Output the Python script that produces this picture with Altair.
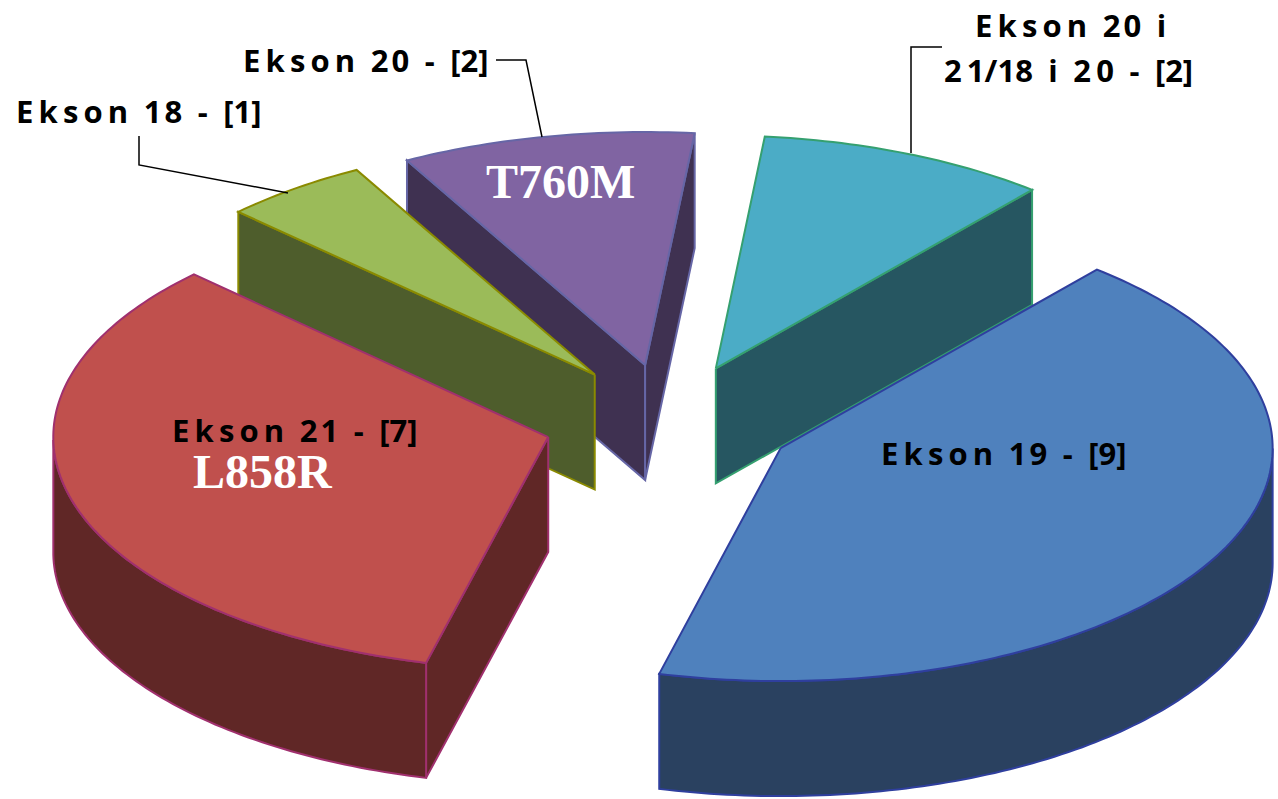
import math
import altair as alt
import pandas as pd

# Slices in drawing-sequence order, clockwise from the first slice angle
slice_names = ["Ekson 19", "Ekson 21", "Ekson 18", "Ekson 20", "Ekson 20 i 21/18 i 20"]
slice_counts = [9, 7, 1, 2, 2]
top_colors = ["#4F81BD", "#C0504D", "#9BBB59", "#8064A2", "#4BACC6"]
wall_colors = ["#2A4160", "#602726", "#4E5D2C", "#3F3151", "#265661"]
edge_colors = ["#2F3F9E", "#A0306E", "#8A8A00", "#6666A6", "#35A070"]
explode_by_slice = [0.255, 0.255, 0.25, 0.245, 0.245]
# Horizontal stretch of each slice, a slight perspective widening on the far left
stretch_by_slice = [1.0, 1.006, 1.012, 1.012, 1.0]

# Pie geometry: tilted ellipse and extrusion depth
W, H = 1278, 799
CX, CY = 669, 421
RX, RY = 492, 233
DEPTH = 115 / RY
FIRST_ANGLE = 50.0


def to_ux(px):
    return (px - CX) / RX


def to_uy(py):
    return (CY - py) / RY


def point(t, ox, oy, sx=1.0, drop=0.0):
    r = math.radians(t)
    return ox + sx * math.cos(r), oy + math.sin(r) - drop


rows = []


def add_poly(pid, pts, fill, stroke):
    closed = list(pts) + [pts[0]]
    for i, (x, y) in enumerate(closed):
        rows.append({"poly": pid, "seq": i, "x": x, "y": y, "fill": fill, "stroke": stroke})


# Work out the angular span of each slice from its count
total = sum(slice_counts)
spans = []
angle = FIRST_ANGLE
for c in slice_counts:
    spans.append((angle, angle - 360.0 * c / total))
    angle = spans[-1][1]

# Back-to-front painting order: rear slices first
paint_order = [4, 3, 2, 1, 0]
for idx in paint_order:
    start, end = spans[idx]
    mid = math.radians((start + end) / 2)
    explode = explode_by_slice[idx]
    sx = stretch_by_slice[idx]
    ox, oy = explode * math.cos(mid), explode * math.sin(mid)
    steps = max(8, int(abs(start - end)))
    arc = [start + (end - start) * k / steps for k in range(steps + 1)]
    apex = (ox, oy)
    apex_low = (ox, oy - DEPTH)
    fill, wall, stroke = top_colors[idx], wall_colors[idx], edge_colors[idx]

    # Radial walls that face the viewer
    for name, t, sign in (("a", start, 1), ("b", end, -1)):
        r = math.radians(t)
        # outward normal of the radial edge; the ground y component decides visibility
        normal_y = sign * math.cos(r)
        if normal_y < 0:
            add_poly(f"{idx}-wall-{name}",
                     [apex, point(t, ox, oy, sx), point(t, ox, oy, sx, DEPTH), apex_low],
                     wall, stroke)

    # Curved wall: only the part on the near half of the ellipse
    near = [t for t in arc if math.sin(math.radians(t)) <= 0.0005]
    if len(near) > 1:
        upper = [point(t, ox, oy, sx) for t in near]
        lower = [point(t, ox, oy, sx, DEPTH) for t in reversed(near)]
        add_poly(f"{idx}-rim", upper + lower, wall, stroke)

    # Top face
    add_poly(f"{idx}-top", [apex] + [point(t, ox, oy, sx) for t in arc], fill, stroke)

faces = pd.DataFrame(rows)

x_scale = alt.Scale(domain=[to_ux(0), to_ux(W)], range=[0, W], nice=False, zero=False)
y_scale = alt.Scale(domain=[to_uy(H), to_uy(0)], range=[H, 0], nice=False, zero=False)

pie = alt.Chart(faces).mark_line(strokeWidth=2, strokeJoin="miter", interpolate="linear").encode(
    x=alt.X("x:Q", scale=x_scale, axis=None),
    y=alt.Y("y:Q", scale=y_scale, axis=None),
    detail="poly:N",
    order="seq:Q",
    fill=alt.Fill("fill:N", scale=None),
    stroke=alt.Stroke("stroke:N", scale=None),
)

# Leader lines from the outside labels to their slices
leader_paths = {
    "18": [(139, 136), (139, 165), (288, 193)],
    "20": [(496, 60), (526, 60), (542, 137)],
    "mix": [(942, 47), (911, 47), (911, 153)],
}
leaders = pd.DataFrame([
    {"id": k, "seq": i, "x": to_ux(px), "y": to_uy(py)}
    for k, pts in leader_paths.items() for i, (px, py) in enumerate(pts)
])
leader_layer = alt.Chart(leaders).mark_line(color="#000000", strokeWidth=1.5).encode(
    x=alt.X("x:Q", scale=x_scale, axis=None),
    y=alt.Y("y:Q", scale=y_scale, axis=None),
    detail="id:N",
    order="seq:Q",
)

# Tracked lettering: letter-spaced word, wide word gaps, hair-spaced digits
EN = "\u2002"
THIN = "\u2009"
HAIR = "\u200a"
EKSON = THIN.join("Ekson")


def tracked(number, tail=""):
    digits = HAIR.join(number)
    return f"{EKSON}{EN}{digits}{tail}"


sans_text = [tracked("19", f"{EN}-{EN}[9]"), tracked("21", f"{EN}-{EN}[7]"), tracked("18", f"{EN}-{EN}[1]"),
             tracked("20", f"{EN}-{EN}[2]"), tracked("20", f"{EN}i"),
             f"2{THIN}1/18{EN}i{EN}2{THIN}0{EN}-{EN}[2]"]
sans_x = [881, 172, 16, 243, 975, 944]
sans_y = [465, 442, 123, 72, 37, 82]
serif_text = ["L858R", "T760M"]
serif_x = [193, 486]
serif_y = [488, 198]

sans = pd.DataFrame({"t": sans_text, "x": [to_ux(v) for v in sans_x], "y": [to_uy(v) for v in sans_y]})
serif = pd.DataFrame({"t": serif_text, "x": [to_ux(v) for v in serif_x], "y": [to_uy(v) for v in serif_y]})

sans_layer = alt.Chart(sans).mark_text(
    font="Open Sans", fontWeight="bold", fontSize=31, align="left", baseline="alphabetic", color="#000000"
).encode(
    x=alt.X("x:Q", scale=x_scale, axis=None),
    y=alt.Y("y:Q", scale=y_scale, axis=None),
    text="t:N",
)
serif_layer = alt.Chart(serif).mark_text(
    font="Liberation Serif", fontWeight="bold", fontSize=48, align="left", baseline="alphabetic", color="#FFFFFF"
).encode(
    x=alt.X("x:Q", scale=x_scale, axis=None),
    y=alt.Y("y:Q", scale=y_scale, axis=None),
    text="t:N",
)

chart = alt.layer(pie, leader_layer, sans_layer, serif_layer).properties(
    width=W, height=H, padding=0, background="#FFFFFF"
).configure_view(stroke=None)

chart.save("out.html", embed_options={"renderer": "svg", "actions": False})
